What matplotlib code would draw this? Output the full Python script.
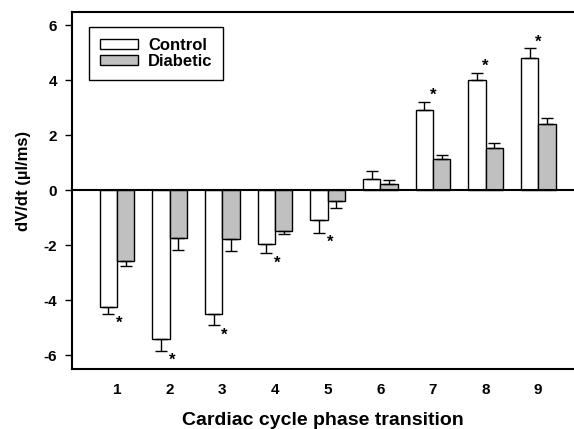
import matplotlib
matplotlib.use("Agg")
import matplotlib.pyplot as plt
import numpy as np

plt.rcParams['font.family'] = ['Liberation Sans', 'DejaVu Sans']
plt.rcParams['font.weight'] = 'bold'
plt.rcParams['axes.unicode_minus'] = False

# phase transitions and dV/dt values (mean, SE)
phase = np.array([1, 2, 3, 4, 5, 6, 7, 8, 9])
control = np.array([-4.24, -5.42, -4.50, -1.94, -1.08, 0.42, 2.91, 4.02, 4.79])
control_se = np.array([0.25, 0.41, 0.41, 0.35, 0.47, 0.28, 0.30, 0.25, 0.36])
diabetic = np.array([-2.58, -1.73, -1.78, -1.47, -0.39, 0.21, 1.13, 1.54, 2.42])
diabetic_se = np.array([0.16, 0.44, 0.44, 0.14, 0.27, 0.17, 0.15, 0.16, 0.22])
signif = [True, True, True, True, True, False, True, True, True]

fig = plt.figure(figsize=(5.74, 4.29), dpi=100)
ax = fig.add_axes([0.126, 0.14, 0.874, 0.831])

w = 0.33
# error bars only away from zero
err_c = [np.where(control < 0, control_se, 0), np.where(control > 0, control_se, 0)]
err_d = [np.where(diabetic < 0, diabetic_se, 0), np.where(diabetic > 0, diabetic_se, 0)]
ekw = dict(elinewidth=1, capthick=1, ecolor='black')
ax.bar(phase - w/2, control, w, color='white', edgecolor='black', linewidth=1,
       yerr=err_c, capsize=4, error_kw=ekw, label='Control', zorder=2)
ax.bar(phase + w/2, diabetic, w, color='#c0c0c0', edgecolor='black', linewidth=1,
       yerr=err_d, capsize=4, error_kw=ekw, label='Diabetic', zorder=2)

ax.axhline(0, color='black', linewidth=1.5, zorder=3)

for x, v, s, sig in zip(phase, control, control_se, signif):
    if not sig:
        continue
    if v < 0:
        ax.text(x + 0.04, v - s - 0.36, '*', ha='center', va='center', fontsize=12)
    else:
        ax.text(x, v + s + 0.24, '*', ha='center', va='center', fontsize=12)

ax.set_xlim(0.152, 9.68)
ax.set_ylim(-6.5, 6.46)
ax.set_xticks(phase)
ax.set_yticks([-6, -4, -2, 0, 2, 4, 6])
ax.tick_params(axis='x', length=0, labelsize=11, pad=10)
ax.tick_params(axis='y', length=5, width=1, labelsize=11, pad=6)
for s in ['left', 'bottom', 'top']:
    ax.spines[s].set_linewidth(1.5)
ax.spines['right'].set_visible(False)

ax.set_xlabel('Cardiac cycle phase transition', fontsize=14, fontweight='bold', labelpad=11)
ax.set_ylabel('dV/dt (µl/ms)', fontsize=12, fontweight='bold')
ax.yaxis.set_label_coords(-0.082, 0.527)

leg = ax.legend(loc='upper left', bbox_to_anchor=(0.033, 0.958), borderaxespad=0,
                fontsize=12, frameon=True, fancybox=False, edgecolor='black',
                framealpha=1, handlelength=2.3, handleheight=0.55, handletextpad=0.6,
                labelspacing=0.05, borderpad=0.65)
leg.get_frame().set_linewidth(1)

fig.savefig('out.png', dpi=100)
